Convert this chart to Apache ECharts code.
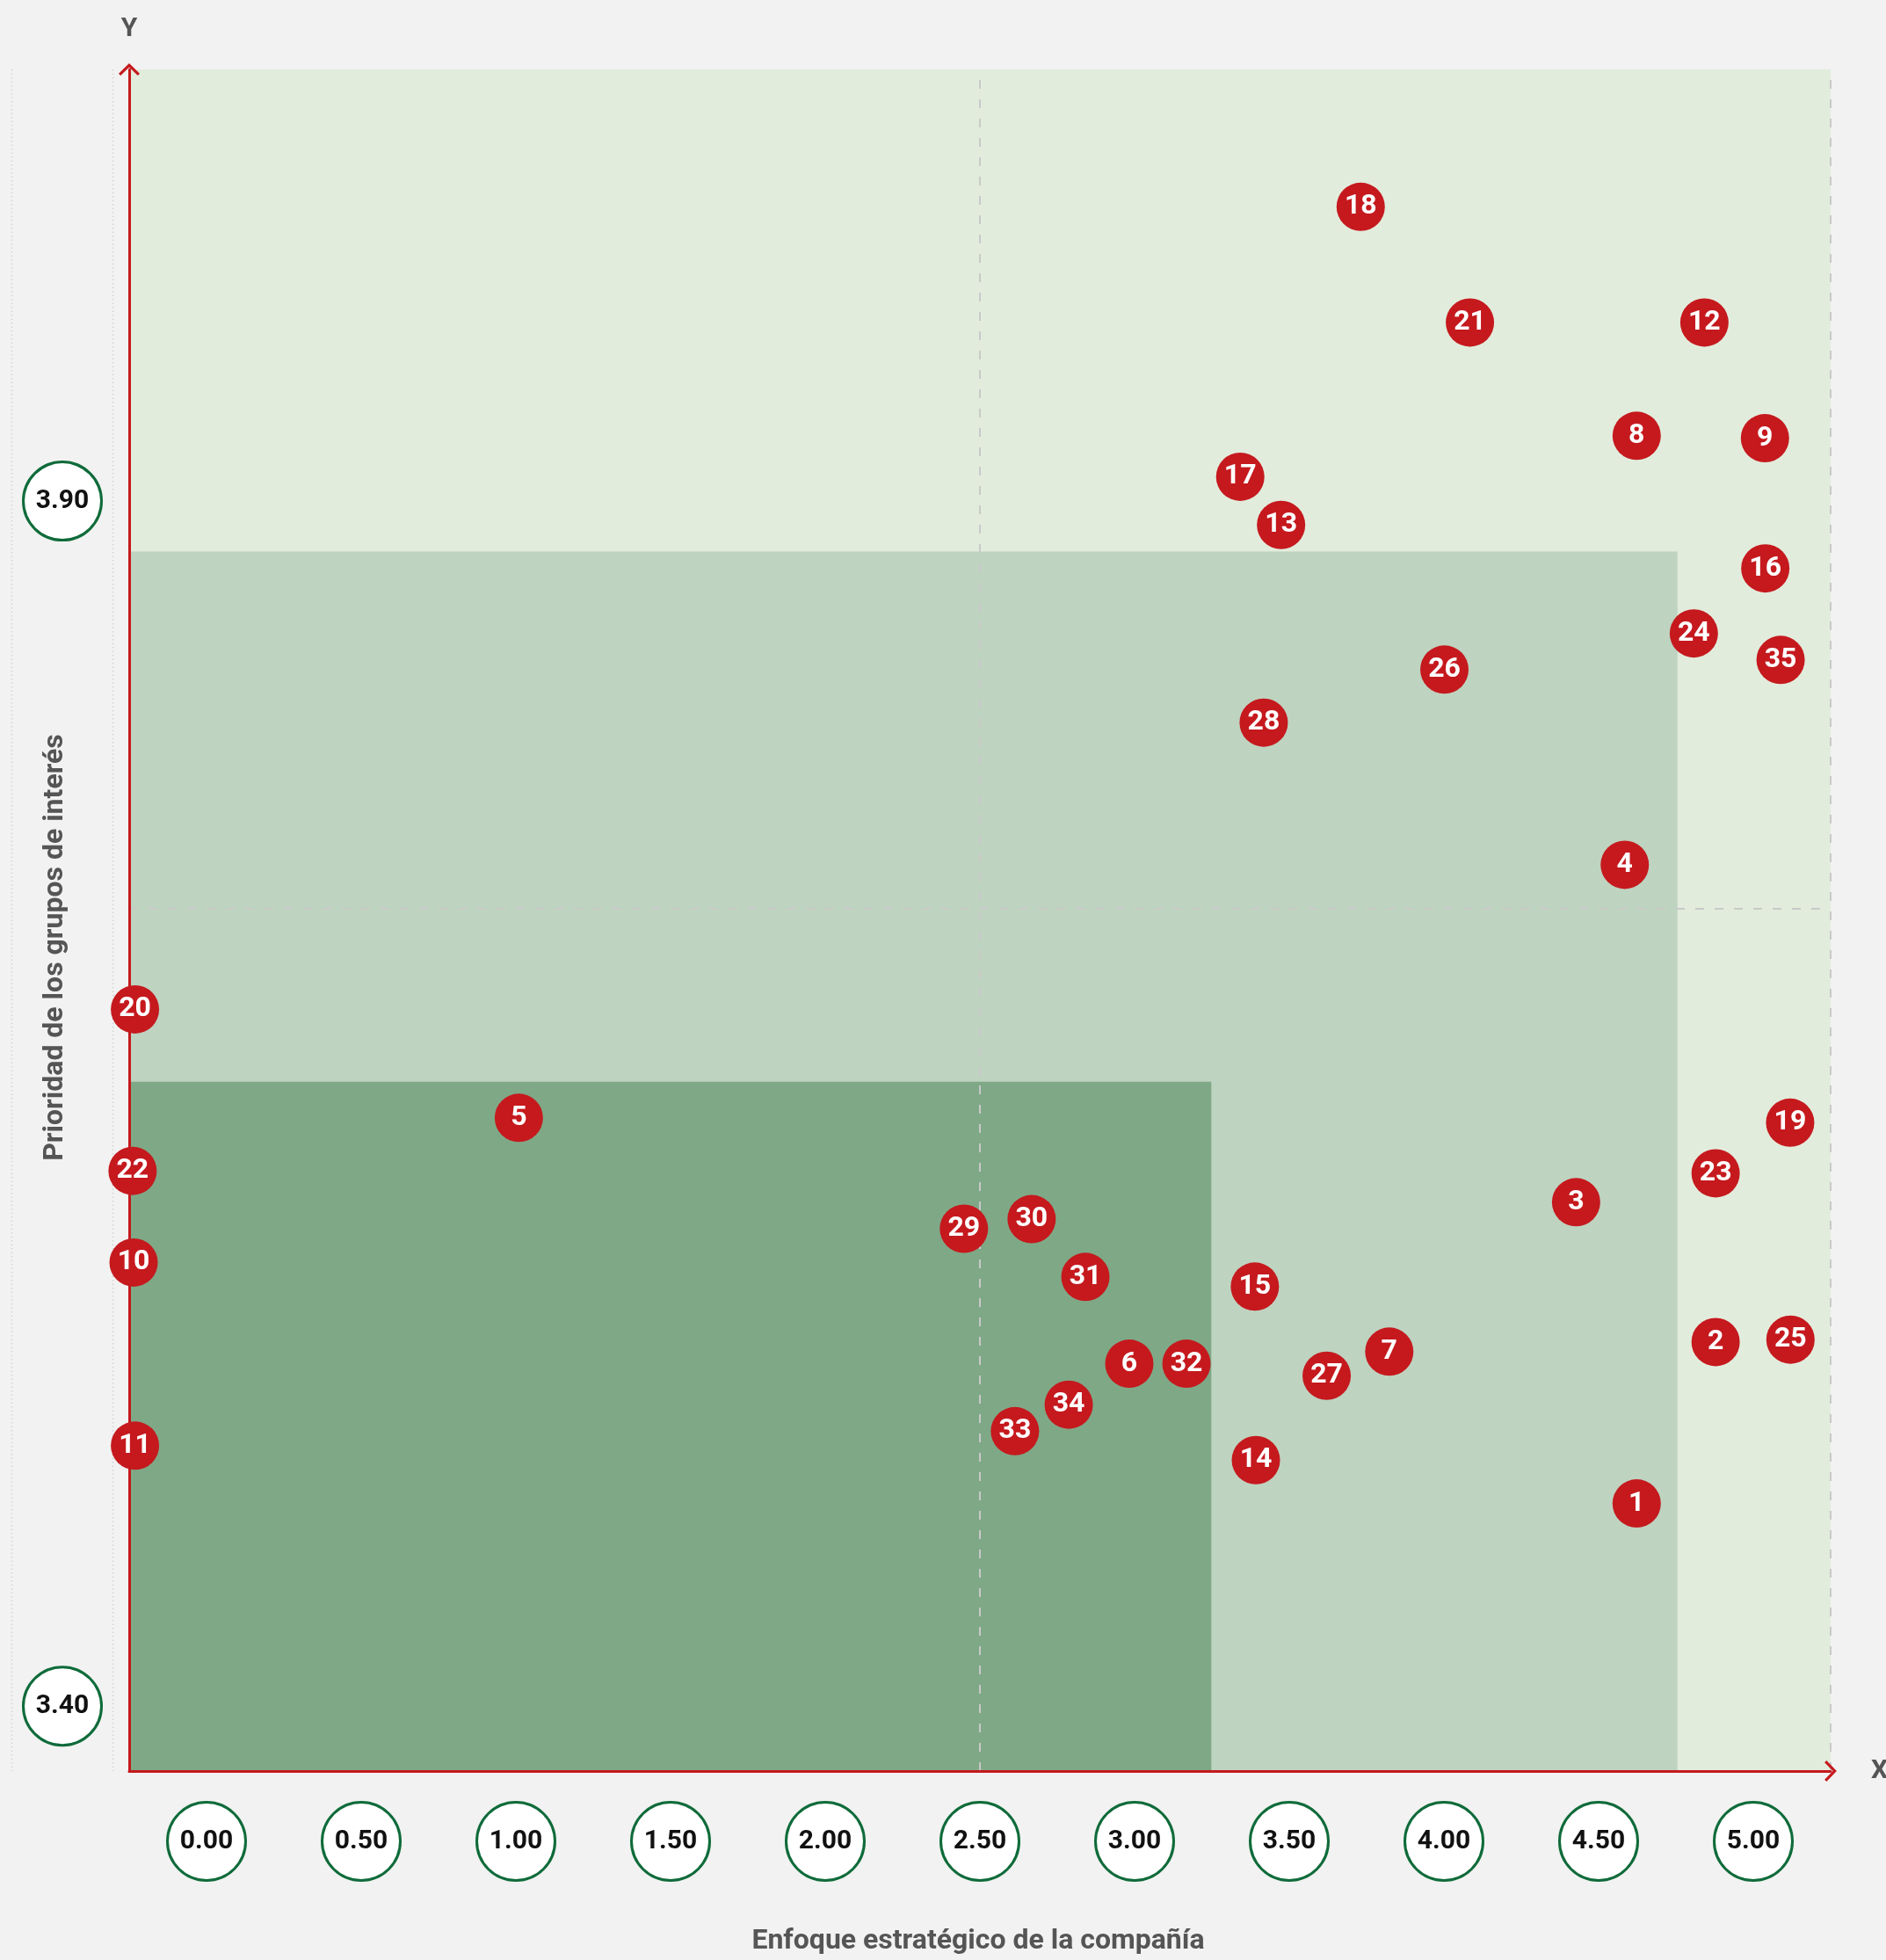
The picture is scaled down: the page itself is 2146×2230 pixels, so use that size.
<!DOCTYPE html>
<html>
<head>
<meta charset="utf-8">
<script src="https://cdn.jsdelivr.net/npm/echarts@6/dist/echarts.min.js"></script>
<style>
  html, body { margin: 0; padding: 0; background: #f1f2f1; overflow: hidden; }
  #chart { width: 2146px; height: 2230px; }
</style>
</head>
<body>
<div id="chart"></div>
<script>
// Tick labels shown in the circles under the horizontal axis
const xTickLabels = ['0.00', '0.50', '1.00', '1.50', '2.00', '2.50', '3.00', '3.50', '4.00', '4.50', '5.00'];
// Tick values shown in the circles beside the vertical axis
const yTickValues = [3.40, 3.90];

// Numbered material topics
const topicIds = [1, 2, 3, 4, 5, 6, 7, 8, 9, 10, 11, 12, 13, 14, 15, 16, 17, 18, 19, 20,
                  21, 22, 23, 24, 25, 26, 27, 28, 29, 30, 31, 32, 33, 34, 35];
// Enfoque estratégico de la compañía (horizontal)
const enfoque = [4.430, 4.662, 4.252, 4.395, 1.145, 2.939, 3.703, 4.430, 4.807, 0.013,
                 0.017, 4.629, 3.385, 3.311, 3.308, 4.808, 3.265, 3.619, 4.881, 0.017,
                 3.940, 0.010, 4.662, 4.598, 4.882, 3.865, 3.519, 3.334, 2.453, 2.652,
                 2.810, 3.107, 2.603, 2.761, 4.853];
// Prioridad de los grupos de interés (vertical)
const prioridad = [3.483, 3.550, 3.608, 3.748, 3.643, 3.541, 3.546, 3.926, 3.925, 3.583,
                   3.507, 3.973, 3.889, 3.501, 3.573, 3.871, 3.909, 4.021, 3.641, 3.688,
                   3.973, 3.621, 3.620, 3.844, 3.551, 3.829, 3.536, 3.807, 3.597, 3.601,
                   3.577, 3.541, 3.513, 3.524, 3.833];

// Nested relevance zones, outermost first (upper-right corner of each zone)
const zoneXMax = [5.00, 4.55, 3.18];
const zoneYMax = [4.078, 3.878, 3.658];

// Quadrant dividers
const xMid = 2.5;
const yMid = 3.725;

const X_MIN = 0, X_MAX = 5;
const Y_MIN = 3.372, Y_MAX = 4.078;

const RED = '#c5191e';
const ZONE_COLORS = ['#e2ecdc', '#bed3c0', '#7fa886'];
const GREEN_RING = '#0f6b3a';
const TITLE_GRAY = '#555555';
const TEXT_FONT = 'Roboto, "Open Sans", "DejaVu Sans", sans-serif';

// open chevron used as the arrow head at the end of both axes
const chevron = 'path://M0,11.6 L12,0 L24,11.6 L21.8,13.8 L12,4.3 L2.2,13.8 Z';

// white ring with a green border holding each tick value
const tickLabel = {
  padding: [6, 0, 0, 0],
  formatter: v => '{c|' + (typeof v === 'number' ? v.toFixed(2) : v) + '}',
  rich: {
    c: {
      color: '#111',
      fontFamily: TEXT_FONT,
      fontWeight: 'bold',
      fontSize: 30,
      backgroundColor: '#ffffff',
      borderColor: GREEN_RING,
      borderWidth: 3,
      borderRadius: 45,
      width: 86,
      height: 86,
      lineHeight: 86,
      align: 'center',
      verticalAlign: 'middle'
    }
  },
  align: 'center',
  verticalAlign: 'middle'
};

const axisNameStyle = {
  color: TITLE_GRAY,
  fontFamily: TEXT_FONT,
  fontWeight: 'bold',
  fontSize: 30
};

const points = topicIds.map((id, i) => [enfoque[i], prioridad[i], id]);

const zoneAreas = zoneXMax.map((xm, i) => [
  { xAxis: X_MIN, yAxis: Y_MIN, itemStyle: { color: ZONE_COLORS[i], opacity: 1 } },
  { xAxis: xm, yAxis: zoneYMax[i] }
]);

const chart = echarts.init(document.getElementById('chart'), null, { renderer: 'canvas' });

chart.setOption({
  backgroundColor: '#f1f2f1',
  animation: false,
  grid: { left: 147, top: 79, width: 1936, height: 1936, outerBoundsMode: 'none', containLabel: false },
  xAxis: [
    {
      type: 'category',
      data: xTickLabels,
      boundaryGap: true,
      position: 'bottom',
      z: 5,
      axisLine: {
        show: true,
        onZero: false,
        lineStyle: { color: RED, width: 3 },
        symbol: ['none', chevron],
        symbolSize: [24, 14]
      },
      axisTick: { show: false },
      splitLine: { show: false },
      axisLabel: Object.assign({ interval: 0, margin: 77 }, tickLabel),
      name: 'X',
      nameLocation: 'end',
      nameGap: 46,
      nameTextStyle: Object.assign({ verticalAlign: 'middle' }, axisNameStyle)
    },
    {
      type: 'value',
      min: X_MIN,
      max: X_MAX,
      show: false
    }
  ],
  yAxis: [
    {
      type: 'value',
      min: Y_MIN,
      max: Y_MAX,
      z: 5,
      axisLine: {
        show: true,
        onZero: false,
        lineStyle: { color: RED, width: 3 },
        symbol: ['none', chevron],
        symbolSize: [24, 14]
      },
      axisTick: { show: false },
      splitLine: { show: false },
      axisLabel: Object.assign({ customValues: yTickValues, margin: 76 }, tickLabel),
      name: 'Y',
      nameLocation: 'end',
      nameGap: 46,
      nameTextStyle: Object.assign({ verticalAlign: 'middle', align: 'center' }, axisNameStyle)
    }
  ],
  series: [
    {
      name: 'zonas',
      type: 'scatter',
      xAxisIndex: 1,
      yAxisIndex: 0,
      data: [],
      z: 1,
      markArea: {
        silent: true,
        z: 1,
        data: zoneAreas
      }
    },
    {
      name: 'cuadrantes',
      type: 'scatter',
      xAxisIndex: 1,
      yAxisIndex: 0,
      data: [],
      z: 3,
      markLine: {
        silent: true,
        z: 3,
        symbol: ['none', 'none'],
        label: { show: false },
        lineStyle: { color: '#c9c9c9', width: 2, type: [10, 12] },
        data: [
          { xAxis: xMid },
          { xAxis: X_MAX },
          { yAxis: yMid },
          { yAxis: Y_MAX }
        ]
      }
    },
    {
      name: 'temas',
      type: 'scatter',
      xAxisIndex: 1,
      yAxisIndex: 0,
      z: 10,
      symbol: 'circle',
      symbolSize: 55,
      itemStyle: { color: RED, opacity: 1 },
      label: {
        show: true,
        position: 'inside',
        formatter: p => String(p.value[2]),
        color: '#ffffff',
        fontFamily: TEXT_FONT,
        fontWeight: 'bold',
        fontSize: 32
      },
      encode: { x: 0, y: 1 },
      data: points
    }
  ],
  graphic: [
    {
      type: 'line',
      silent: true,
      shape: { x1: 13.5, y1: 79, x2: 13.5, y2: 2015 },
      style: { stroke: '#d2d2d2', lineWidth: 1.5, lineDash: [1.5, 3] }
    },
    {
      type: 'line',
      silent: true,
      shape: { x1: 128.5, y1: 79, x2: 128.5, y2: 2015 },
      style: { stroke: '#d2d2d2', lineWidth: 1.5, lineDash: [1.5, 3] }
    },
    {
      type: 'text',
      silent: true,
      x: 1113,
      y: 2209,
      style: {
        text: 'Enfoque estratégico de la compañía',
        fill: TITLE_GRAY,
        fontFamily: TEXT_FONT,
        fontWeight: 'bold',
        fontSize: 32,
        align: 'center',
        verticalAlign: 'middle'
      }
    },
    {
      type: 'text',
      silent: true,
      x: 63,
      y: 1078,
      rotation: Math.PI / 2,
      style: {
        text: 'Prioridad de los grupos de interés',
        fill: TITLE_GRAY,
        fontFamily: TEXT_FONT,
        fontWeight: 'bold',
        fontSize: 32,
        align: 'center',
        verticalAlign: 'middle'
      }
    }
  ]
});
</script>
</body>
</html>
